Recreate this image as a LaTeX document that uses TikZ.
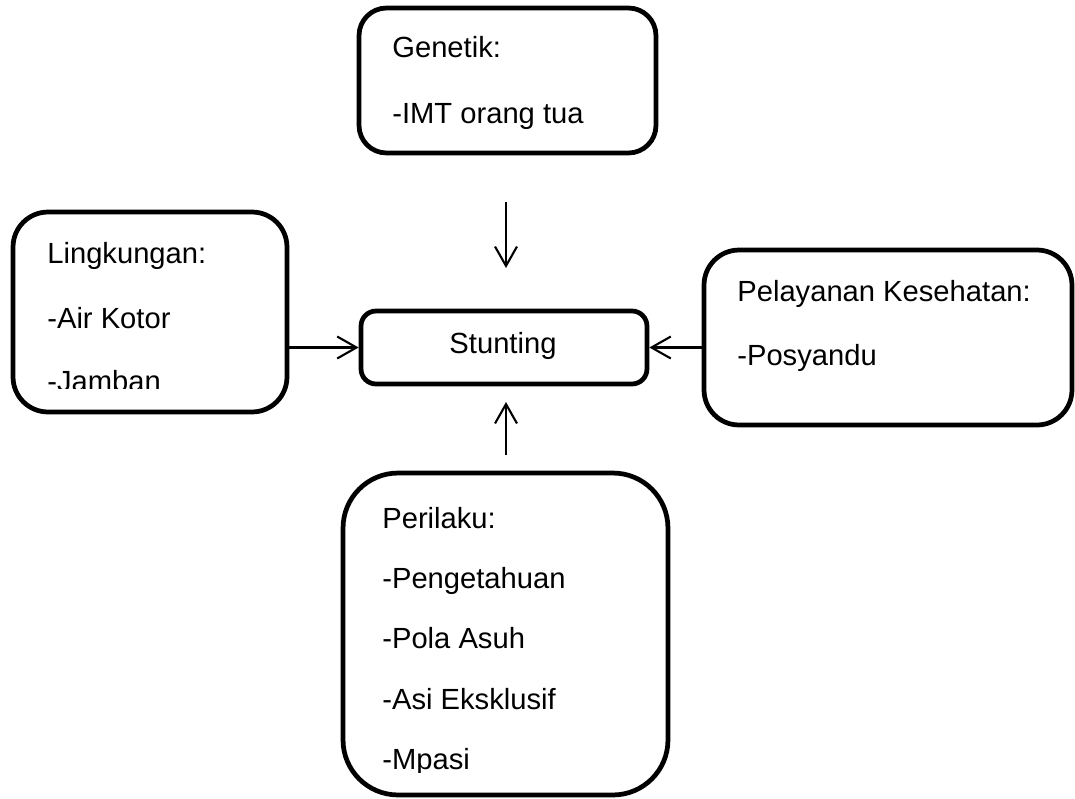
\documentclass[tikz,border=0pt]{standalone}
\usepackage{fontspec}
\setmainfont{Liberation Sans}
\usetikzlibrary{arrows.meta}

\tikzset{
  faktor/.style={draw, line width=2.7pt, inner sep=0pt, rounded corners=0.7cm},
  isi/.style={anchor=base west, inner sep=0pt, font=\fontsize{16.6pt}{19pt}\selectfont},
  panah/.style={-{Straight Barb[length=11pt, width=12.5pt]}, line width=1.2pt}
}

\begin{document}
\begin{tikzpicture}[x=0.02cm, y=-0.02cm]
    \useasboundingbox (0,0) rectangle (1075,798);

    % Kotak
    \node[faktor, minimum width=5.94cm, minimum height=2.9cm, rounded corners=0.55cm] (gen) at (507.5,80.5) {};
    \node[faktor, minimum width=5.48cm, minimum height=4cm] (ling) at (150,312) {};
    \node[faktor, minimum width=5.72cm, minimum height=1.46cm, rounded corners=0.3cm] (stunt) at (504,347.5) {};
    \node[faktor, minimum width=7.36cm, minimum height=3.5cm] (pel) at (888,337.5) {};
    \node[faktor, minimum width=6.5cm, minimum height=6.44cm, rounded corners=1.1cm] (per) at (505.5,634) {};

    % Teks
    \node[isi] (gen1) at (392,57) {Genetik:};
    \node[isi] (gen2) at (392,123) {-IMT orang tua};

    \begin{scope}
        \clip (13,212) rectangle (287,388);
        \node[isi] (ling1) at (47,263) {Lingkungan:};
        \node[isi] (ling2) at (47,328) {-Air Kotor};
        \node[isi] (ling3) at (47,391) {-Jamban};
    \end{scope}

    \node[isi, anchor=base] (stunt1) at (503,353) {Stunting};

    \node[isi] (pel1) at (737,301) {Pelayanan Kesehatan:};
    \node[isi] (pel2) at (737,365) {-Posyandu};

    \begin{scope}
        \clip (343,473) rectangle (668,772);
        \node[isi] (per1) at (382,528) {Perilaku:};
        \node[isi] (per2) at (382,588) {-Pengetahuan};
        \node[isi] (per3) at (382,648) {-Pola Asuh};
        \node[isi] (per4) at (382,709) {-Asi Eksklusif};
        \node[isi] (per5) at (382,769) {-Mpasi};
    \end{scope}

    % Panah
    \coordinate (atas1) at (506,202);
    \coordinate (atas2) at (506,268);
    \coordinate (bawah1) at (506,455);
    \coordinate (bawah2) at (506,402);

    \draw[panah] (atas1) -- (atas2);
    \draw[panah] (bawah1) -- (bawah2);
    \draw[panah] (ling.east |- stunt.west) -- (stunt.west);
    \draw[panah] (pel.west |- stunt.east) -- (stunt.east);
\end{tikzpicture}
\end{document}
